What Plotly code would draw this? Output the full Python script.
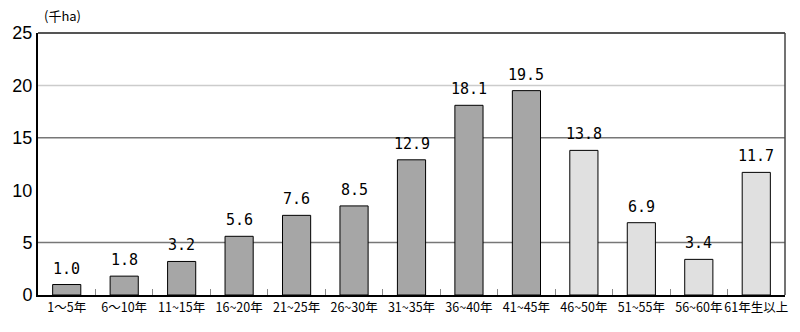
import plotly.graph_objects as go

categories = ["1～5年", "6～10年", "11~15年", "16~20年", "21~25年", "26~30年", "31~35年",
              "36~40年", "41~45年", "46~50年", "51~55年", "56~60年", "61年生以上"]
values = [1.0, 1.8, 3.2, 5.6, 7.6, 8.5, 12.9, 18.1, 19.5, 13.8, 6.9, 3.4, 11.7]
labels = ["1.0", "1.8", "3.2", "5.6", "7.6", "8.5", "12.9", "18.1", "19.5", "13.8", "6.9", "3.4", "11.7"]
bar_colors = ["#a6a6a6"] * 9 + ["#e0e0e0"] * 4
y_ticks = [0, 5, 10, 15, 20, 25]
grid_lines = [(5, "#777777"), (15, "#777777"), (20, "#cccccc")]

fig = go.Figure()
fig.add_trace(go.Bar(
    x=categories, y=values,
    marker=dict(color=bar_colors, line=dict(color="#000000", width=1)),
))

for c, v, t in zip(categories, values, labels):
    fig.add_annotation(x=c, y=v, text=t, showarrow=False, xanchor="center", yanchor="bottom",
                       yshift=5, font=dict(family="DejaVu Sans Mono", size=15, color="#000000"))

for yv, col in grid_lines:
    fig.add_shape(type="line", xref="paper", yref="y", x0=0, x1=1, y0=yv, y1=yv,
                  line=dict(color=col, width=1.5), layer="below")

fig.add_annotation(text="(千ha)", xref="paper", yref="paper", x=0.005, y=1.0,
                   xanchor="left", yanchor="bottom", yshift=6, showarrow=False,
                   font=dict(family="Noto Sans CJK JP", size=13, color="#000000"))

fig.update_layout(
    width=800, height=332,
    margin=dict(l=35, r=12, t=33, b=37),
    paper_bgcolor="white", plot_bgcolor="white",
    bargap=0.51, showlegend=False,
    xaxis=dict(type="category", showgrid=False, ticks="inside", tickson="boundaries",
               ticklen=6, tickcolor="#888888", tickwidth=1, tickangle=0,
               showline=True, linecolor="#000000", linewidth=1.5, mirror=False,
               tickfont=dict(family="Noto Sans CJK JP", size=12.5, color="#000000")),
    yaxis=dict(range=[0, 25], tickvals=y_ticks, showgrid=False, zeroline=False,
               showline=True, linecolor="#000000", linewidth=2, ticks="",
               tickfont=dict(family="Liberation Sans", size=18, color="#000000")),
)
# top and right border
fig.add_shape(type="line", xref="paper", yref="paper", x0=0, x1=1, y0=1, y1=1,
              line=dict(color="#555555", width=2))
fig.add_shape(type="line", xref="paper", yref="paper", x0=1, x1=1, y0=0, y1=1,
              line=dict(color="#444444", width=1.5))

fig.write_html("out.html")
